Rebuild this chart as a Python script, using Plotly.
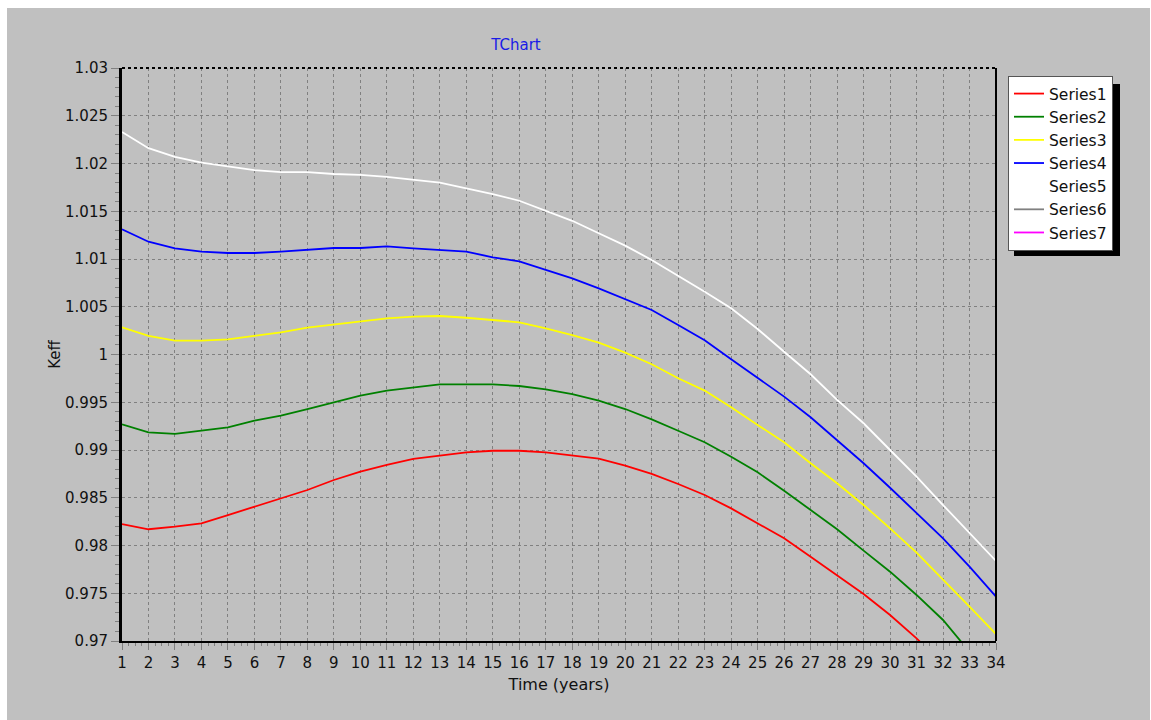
import plotly.graph_objects as go

years = list(range(1, 35))
tick_vals_y = [0.97, 0.975, 0.98, 0.985, 0.99, 0.995, 1.0, 1.005, 1.01, 1.015, 1.02, 1.025, 1.03]
tick_text_y = ["0.97", "0.975", "0.98", "0.985", "0.99", "0.995", "1", "1.005", "1.01", "1.015", "1.02", "1.025", "1.03"]

series1 = [0.98225, 0.98170, 0.98197, 0.98232, 0.98319, 0.98406, 0.98493, 0.98581, 0.98686, 0.98773,
           0.98843, 0.98906, 0.98940, 0.98975, 0.98992, 0.98992, 0.98975, 0.98940, 0.98909, 0.98836,
           0.98749, 0.98644, 0.98529, 0.98389, 0.98232, 0.98075, 0.97883, 0.97691, 0.97492, 0.97272,
           0.97028, 0.96750, 0.96470, 0.96170]
series2 = [0.99269, 0.99185, 0.99168, 0.99202, 0.99238, 0.99307, 0.99359, 0.99429, 0.99499, 0.99569,
           0.99621, 0.99656, 0.99688, 0.99688, 0.99688, 0.99670, 0.99635, 0.99586, 0.99516, 0.99429,
           0.99321, 0.99202, 0.99081, 0.98930, 0.98766, 0.98574, 0.98372, 0.98170, 0.97946, 0.97726,
           0.97482, 0.97220, 0.96887, 0.96550]
series3 = [1.00285, 1.00194, 1.00145, 1.00145, 1.00159, 1.00194, 1.00232, 1.00281, 1.00316, 1.00351,
           1.00379, 1.00396, 1.00403, 1.00385, 1.00361, 1.00337, 1.00274, 1.00204, 1.00124, 1.00019,
           0.99898, 0.99751, 0.99622, 0.99448, 0.99263, 0.99081, 0.98861, 0.98651, 0.98424, 0.98180,
           0.97925, 0.97646, 0.97360, 0.97073]
series4 = [1.01311, 1.01181, 1.01112, 1.01077, 1.01063, 1.01063, 1.01077, 1.01098, 1.01115, 1.01115,
           1.01133, 1.01112, 1.01094, 1.01077, 1.01018, 1.00975, 1.00885, 1.00798, 1.00693, 1.00578,
           1.00466, 1.00309, 1.00150, 0.99950, 0.99751, 0.99559, 0.99343, 0.99105, 0.98861, 0.98605,
           0.98343, 0.98075, 0.97778, 0.97464]
series5 = [1.02330, 1.02160, 1.02070, 1.02010, 1.01970, 1.01930, 1.01910, 1.01910, 1.01890, 1.01880,
           1.01860, 1.01830, 1.01800, 1.01740, 1.01680, 1.01610, 1.01505, 1.01400, 1.01270, 1.01140,
           1.00990, 1.00825, 1.00658, 1.00484, 1.00267, 1.00029, 0.99793, 0.99524, 0.99280, 0.99000,
           0.98720, 0.98424, 0.98131, 0.97838]
series6 = [None] * 34
series7 = [None] * 34

names = ["Series1", "Series2", "Series3", "Series4", "Series5", "Series6", "Series7"]
colors = ["#FF0000", "#008000", "#FFFF00", "#0000FF", "#FFFFFF", "#808080", "#FF00FF"]
data = [series1, series2, series3, series4, series5, series6, series7]

FONT = "DejaVu Sans, Liberation Sans, Arial, sans-serif"
# page offset (body margin) of 8px top / 7px left is applied below
W, H = 1143, 712
L, R, T, B = 115, 154, 60, 79
pw, ph = W - L - R, H - T - B


def px_x(p):
    return (p - L) / pw


def px_y(p):
    return 1 - (p - T) / ph


fig = go.Figure()
for n, c, d in zip(names, colors, data):
    fig.add_trace(go.Scatter(x=years, y=d, name=n, mode="lines",
                             line=dict(color=c, width=1.8)))

shapes = [
    # legend shadow
    dict(type="rect", xref="paper", yref="paper", x0=px_x(1007), x1=px_x(1113), y0=px_y(248), y1=px_y(76),
         fillcolor="black", line=dict(width=0), layer="below"),
    # top border dotted
    dict(type="line", xref="paper", yref="paper", x0=0, x1=1, y0=1, y1=1,
         line=dict(color="black", width=2, dash="dot")),
    # right border
    dict(type="line", xref="paper", yref="paper", x0=1, x1=1, y0=0, y1=1,
         line=dict(color="black", width=2)),
]

fig.update_layout(
    width=W, height=H,
    margin=dict(l=L, r=R, t=T, b=B, autoexpand=False),
    paper_bgcolor="#C0C0C0",
    plot_bgcolor="#C0C0C0",
    font=dict(family=FONT, size=15, color="#111111"),
    title=dict(text="TChart", x=509 / W, xref="container", xanchor="center",
               y=1 - 37 / H, yref="container", yanchor="middle",
               font=dict(family=FONT, size=15, color="#1A1AE6")),
    showlegend=True,
    legend=dict(x=px_x(1001), y=px_y(68), xanchor="left", yanchor="top",
                bgcolor="white", bordercolor="#555555", borderwidth=1,
                font=dict(family=FONT, size=15.5, color="#111111"),
                itemwidth=30, tracegroupgap=0),
    shapes=shapes,
    xaxis=dict(range=[1, 34], tickmode="array", tickvals=years, ticktext=[str(v) for v in years],
               showgrid=True, gridcolor="#808080", griddash="dot", gridwidth=1,
               showline=True, linecolor="black", linewidth=2,
               ticks="outside", ticklen=7, tickcolor="#808080", tickwidth=1,
               minor=dict(dtick=0.25, ticks="outside", ticklen=3, tickcolor="#808080", showgrid=False),
               zeroline=False,
               title=dict(text="Time (years)", font=dict(family=FONT, size=16), standoff=8),
               tickfont=dict(family=FONT, size=15)),
    yaxis=dict(range=[0.97, 1.03], tickmode="array", tickvals=tick_vals_y, ticktext=tick_text_y,
               showgrid=True, gridcolor="#808080", griddash="dot", gridwidth=1,
               showline=True, linecolor="black", linewidth=3,
               ticks="outside", ticklen=8, tickcolor="#808080", tickwidth=1,
               minor=dict(dtick=0.001, ticks="outside", ticklen=4, tickcolor="#808080", showgrid=False),
               zeroline=False,
               title=dict(text="Keff", font=dict(family=FONT, size=15), standoff=1),
               tickfont=dict(family=FONT, size=15)),
)

fig.write_html("out.html",
               post_script="document.body.style.margin='8px 0 0 7px';document.body.style.overflow='hidden';")
